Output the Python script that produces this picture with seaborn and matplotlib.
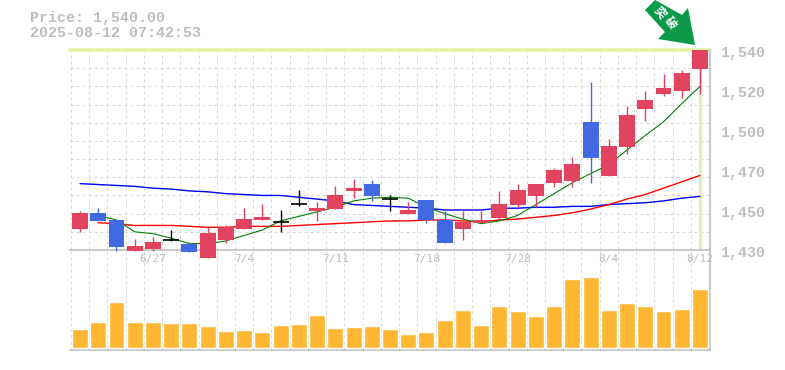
import matplotlib
matplotlib.use("Agg")
import matplotlib.pyplot as plt
from matplotlib.patches import Polygon
from matplotlib.ticker import FixedLocator
from matplotlib.transforms import ScaledTranslation
import numpy as np
import pandas as pd
import seaborn as sns

# Daily candles
opens = [1441.5, 1450.5, 1446.5, 1429.5, 1430.5, 1435.5, 1433.5, 1425.5, 1435.5, 1441.5, 1446.5, 1445.5,
         1455.5, 1451.5, 1452.5, 1462.5, 1466.5, 1458, 1450, 1457.5, 1446.5, 1441.5, 1445, 1447.5,
         1455, 1459.5, 1467, 1468, 1500.5, 1470.5, 1486.5, 1507.5, 1516, 1517.5, 1529.5]
highs = [1451.5, 1453, 1446.5, 1436, 1437, 1441, 1434.5, 1442.5, 1444, 1453, 1455.5, 1452,
         1463, 1456.5, 1465, 1469, 1468.5, 1460, 1456.5, 1457.5, 1451.5, 1451.5, 1451.5, 1462.5,
         1466.5, 1466.5, 1475, 1481, 1522.5, 1491, 1509, 1517.5, 1527, 1529, 1540]
lows = [1440, 1446, 1429.5, 1429.5, 1429.5, 1435, 1429, 1425.5, 1434, 1441.5, 1446.5, 1440,
        1454, 1446, 1452.5, 1458.5, 1457, 1451.5, 1450, 1445, 1434, 1435.5, 1445, 1446.5,
        1453.5, 1453.5, 1464.5, 1464.5, 1467, 1470.5, 1483, 1501, 1514.5, 1513.5, 1516]
closes = [1450.5, 1446, 1431.5, 1432, 1434.5, 1435.5, 1429, 1439.5, 1442.5, 1447, 1448, 1445.5,
          1455.5, 1453, 1460, 1464, 1459.5, 1458, 1452, 1446.5, 1434, 1445.5, 1446.5, 1455.5,
          1463, 1466.5, 1474, 1477.5, 1480.5, 1487, 1504, 1512.5, 1519, 1527.5, 1540]
volume = [19, 26, 46, 26, 26, 25, 25, 22, 17, 18, 16, 23, 24, 33, 20, 21, 22, 19,
          14, 16, 28, 38, 23, 42, 37, 32, 42, 69, 71, 38, 45, 42, 37, 39, 59]

# Moving averages (gaps where a line has not started)
ma_green = [np.nan, 1449, 1446.5, 1440, 1439, 1436.5, 1433.5, 1433.5, 1435, 1438, 1441, 1446,
            1448.5, 1451, 1453.5, 1457, 1458.5, 1459, 1458.5, 1453.5, 1450, 1447, 1444.5, 1446,
            1449, 1455, 1461, 1467, 1472, 1477, 1485, 1493, 1500.5, 1510.5, 1520]
ma_red = [np.nan, 1445, 1444.5, 1443.5, 1443.5, 1443.5, 1443, 1442.5, 1442.5, 1443, 1443, 1443,
          1443.5, 1444, 1444.5, 1445, 1445.5, 1446, 1446, 1446.5, 1446.5, 1446, 1445.5, 1446.5,
          1447, 1448, 1449, 1450.5, 1452.5, 1455, 1458, 1460.5, 1464, 1467.5, 1471]
ma_blue = [1466.5, 1466, 1465.5, 1465, 1464, 1463.5, 1462.5, 1462, 1461, 1460.5, 1460, 1460,
           1459, 1458, 1457, 1455, 1454.5, 1454, 1453.5, 1453, 1452, 1452, 1452, 1453,
           1453, 1453.5, 1453.5, 1454, 1454, 1455, 1455.5, 1456, 1457, 1458.5, 1459.5]

date_ticks = [4, 9, 14, 19, 24, 29, 34]
date_labels = ["6/27", "7/4", "7/11", "7/18", "7/28", "8/4", "8/12"]
price_ticks = [1540, 1518, 1496, 1474, 1452, 1430]
price_labels = ["1,540", "1,520", "1,500", "1,470", "1,450", "1,430"]

RED = "#e2445f"
BLUE = "#4169e1"
ORANGE = "#ffb733"
GREY = "#bdbdbd"
GRID = "#d8d8d8"
LIME = "#e2f2a4"

sns.set_theme(style="white")
plt.rcParams["font.family"] = ["Liberation Mono", "DejaVu Sans Mono"]

W, H = 785, 370
fig = plt.figure(figsize=(W / 100, H / 100), dpi=100)
ax = fig.add_axes([70 / W, 1 - 250 / H, 640 / W, 200 / H], zorder=2)
ax_vol = fig.add_axes([70 / W, 1 - 350 / H, 640 / W, 100 / H], zorder=1)
ax.patch.set_alpha(0)

df = pd.DataFrame({"i": range(len(opens)), "o": opens, "h": highs, "l": lows, "c": closes, "vol": volume,
                   "green": ma_green, "red": ma_red, "blue": ma_blue})
xlim = (-0.55, 34.55)

# Volume
sns.barplot(data=df, x="i", y="vol", native_scale=True, color=ORANGE, saturation=1, width=0.877, ax=ax_vol, zorder=3)
ax_vol.set_xlim(xlim)
ax_vol.set_ylim(-2, 98)
ax_vol.set(xlabel="", ylabel="", yticks=[])

# Moving averages go under the candles
sns.lineplot(data=df, x="i", y="blue", color="#0000ff", lw=1.0, ax=ax, zorder=3)
sns.lineplot(data=df, x="i", y="red", color="#ff0000", lw=1.0, ax=ax, zorder=3)
sns.lineplot(data=df, x="i", y="green", color="#008000", lw=0.8, ax=ax, zorder=3)

# Candles, a few dip under the price panel
up = df["c"] > df["o"]
down = df["c"] < df["o"]
flat = df["c"] == df["o"]
colours = np.where(up, RED, np.where(down, BLUE, "black"))
ax.vlines(df["i"], df["l"], df["h"], colors=colours, lw=1.0, zorder=4, clip_on=False)
ax.bar(df["i"][~flat], (df["c"] - df["o"])[~flat], bottom=df["o"][~flat], width=0.877,
       color=colours[~flat], lw=0, zorder=5, clip_on=False)
ax.hlines(df["c"][flat], df["i"][flat] - 0.44, df["i"][flat] + 0.44, colors="black", lw=1.2, zorder=5)

# Highlight of the latest price and day
ax.axhline(closes[-1], color=LIME, lw=2.6, zorder=1, clip_on=False)
ax.axvline(df["i"].iloc[-1], ymin=0.01, color=LIME, lw=2.2, zorder=1)

ax.set_xlim(xlim)
ax.set_ylim(1430, 1540)
ax.set(xlabel="", ylabel="")
ax.set_xticks(date_ticks, date_labels)
ax.set_yticks(price_ticks, price_labels)
ax.yaxis.tick_right()
ax.tick_params(axis="x", length=0, pad=3, labelsize=8, labelcolor=GREY)
ax.tick_params(axis="y", length=0, pad=8, labelsize=10.8, labelcolor=GREY)
for lab in ax.get_xticklabels():
    lab.set_family("DejaVu Sans Mono")
shift = ScaledTranslation(0, -2 / 100, fig.dpi_scale_trans)
for lab in ax.get_yticklabels():
    lab.set_transform(lab.get_transform() + shift)
    lab.set_fontweight("bold")

# Dashed grid, one cell per day and per 10 yen
ax.yaxis.set_minor_locator(FixedLocator(range(1430, 1541, 10)))
for a in (ax, ax_vol):
    a.xaxis.set_minor_locator(FixedLocator(np.arange(-0.5, 34.6, 1)))
    a.grid(which="minor", axis="x", color=GRID, lw=0.72, ls=(0, (3, 3)), zorder=0)
    a.set_axisbelow(True)
    a.tick_params(which="minor", length=0)
ax.grid(which="minor", axis="y", color=GRID, lw=0.72, ls=(0, (3, 3)), zorder=0)

for a in (ax, ax_vol):
    for side in ("top", "left"):
        a.spines[side].set_visible(False)
    for side in ("right", "bottom"):
        a.spines[side].set_color("#bbbbbb")
        a.spines[side].set_linewidth(1.1)
ax_vol.set_xticks([])

# Header
fig.text(30 / W, 1 - 18 / H, "Price: 1,540.00", color=GREY, fontsize=10.8, va="center", fontweight="bold")
fig.text(30 / W, 1 - 33 / H, "2025-08-12 07:42:53", color=GREY, fontsize=10.8, va="center", fontweight="bold")

# Green arrow badge
arrow = [(645, 10), (655, 0), (682, 15), (688, 8), (695, 45), (658, 39), (665, 32)]
fig.add_artist(Polygon([(x / W, 1 - y / H) for x, y in arrow], closed=True, color="#0a9a48", lw=0,
                       transform=fig.transFigure))
fig.text(660 / W, 1 - 12 / H, "突", color="white", fontsize=8.5, rotation=-50, ha="center", va="center",
         family=["Noto Sans CJK JP", "DejaVu Sans"], fontweight="bold")
fig.text(671 / W, 1 - 23 / H, "破", color="white", fontsize=8.5, rotation=-50, ha="center", va="center",
         family=["Noto Sans CJK JP", "DejaVu Sans"], fontweight="bold")

fig.savefig("out.png", dpi=100)
